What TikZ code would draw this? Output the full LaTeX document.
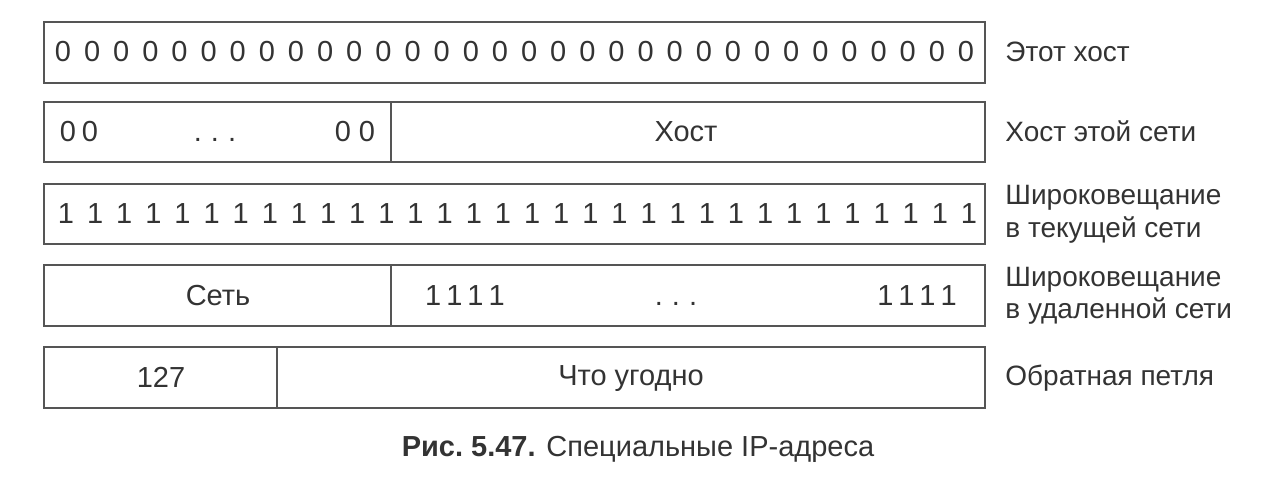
\documentclass[tikz,border=0pt]{standalone}
\usepackage{fontspec}
\setmainfont{Liberation Sans}
\definecolor{ln}{HTML}{555555}
\definecolor{tx}{HTML}{333333}
\tikzset{
  field/.style={draw=ln, line width=1pt},
  bit/.style={text=tx, font=\fontsize{14.5}{17}\selectfont, inner sep=0pt, anchor=base},
  lab/.style={text=tx, font=\fontsize{14}{16}\selectfont, inner sep=0pt, anchor=base west},
}
\begin{document}
\begin{tikzpicture}[x=0.5pt,y=-0.5pt]
\useasboundingbox (0,0) rectangle (1280,485);
% row 1
\draw[field] (44,22) rectangle (985,83);
\foreach \i in {0,...,31} { \node[bit] (z\i) at ({63+\i*29.13},62) {0}; }
\node[lab] (l1) at (1005,62) {Этот хост};
% row 2
\draw[field] (44,102) rectangle (985,162);
\draw[field] (391,102) -- (391,162);
\node[bit] (a1) at (79,142) {0\kern3pt0};
\node[bit] (a2) at (215,142) {.\kern4.5pt.\kern4.5pt.};
\node[bit] (a3) at (355,142) {0\kern4pt0};
\node[bit] (a4) at (686,142) {Хост};
\node[lab] (l2) at (1005,142) {Хост этой сети};
% row 3
\draw[field] (44,184) rectangle (985,244);
\foreach \i in {0,...,31} { \node[bit] (o\i) at ({66+\i*29.13},224) {1}; }
\node[lab] (l3a) at (1005,205) {Широковещание};
\node[lab] (l3b) at (1005,238) {в текущей сети};
% row 4
\draw[field] (44,265) rectangle (985,326);
\draw[field] (391,265) -- (391,326);
\node[bit] (b1) at (218,306) {Сеть};
\node[bit] (b2) at (465,306) {1\kern2.5pt1\kern2.5pt1\kern2.5pt1};
\node[bit] (b3) at (676,306) {.\kern4.5pt.\kern4.5pt.};
\node[bit] (b4) at (917,306) {1\kern2.5pt1\kern2.5pt1\kern2.5pt1};
\node[lab] (l4a) at (1005,287) {Широковещание};
\node[lab] (l4b) at (1005,319) {в удаленной сети};
% row 5
\draw[field] (44,347) rectangle (985,408);
\draw[field] (277,347) -- (277,408);
\node[bit] (c1) at (161,388) {127};
\node[bit] (c2) at (631,386) {Что угодно};
\node[lab] (l5) at (1005,386) {Обратная петля};
% caption
\node[text=tx, font=\fontsize{14.5}{17}\selectfont, inner sep=0pt, anchor=base] (cap) at (638,457) {\textbf{Рис.\ 5.47.} Специальные IP-адреса};
\end{tikzpicture}
\end{document}
